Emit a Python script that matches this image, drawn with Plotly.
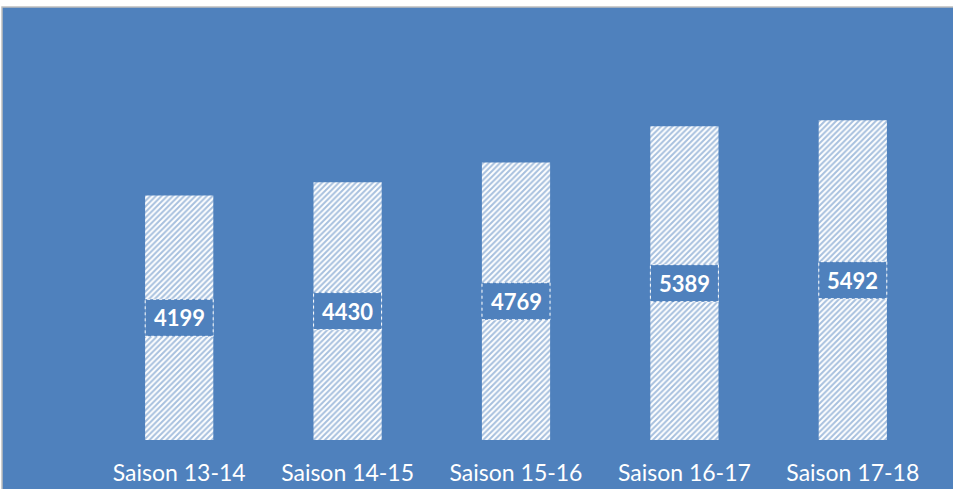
import plotly.graph_objects as go

categories = ["Saison 13-14", "Saison 14-15", "Saison 15-16", "Saison 16-17", "Saison 17-18"]
values = [4199, 4430, 4769, 5389, 5492]

BLUE = "#4F81BD"
W, H = 953, 489
ML, MR, MT, MB = 95, 16, 8, 49
pw = W - ML - MR
ph = H - MT - MB

fig = go.Figure()
fig.add_trace(go.Bar(
    x=categories, y=values,
    marker=dict(color="white", line=dict(width=0),
                pattern=dict(shape="/", fgcolor=BLUE, bgcolor="white", size=4, solidity=0.5)),
    hoverinfo="skip",
))

shapes = [dict(type="rect", xref="paper", yref="paper",
               x0=(2 - ML) / pw, x1=(W + 5 - ML) / pw,
               y0=(ph + MT - H - 5) / ph, y1=(ph + MT - 7) / ph,
               fillcolor=BLUE, line=dict(color="#BFBFBF", width=1.5), layer="below")]
annotations = []
for i, (c, v) in enumerate(zip(categories, values)):
    shapes.append(dict(type="rect", xref="x", yref="y",
                       xsizemode="pixel", ysizemode="pixel",
                       xanchor=i, yanchor=v / 2,
                       x0=-34, x1=34, y0=-18.5, y1=18.5,
                       fillcolor=BLUE, line=dict(color="white", width=1, dash="dot"),
                       layer="above"))
    annotations.append(dict(x=c, y=v / 2, xref="x", yref="y", text=f"<b>{v}</b>",
                            showarrow=False,
                            font=dict(family="Lato", size=22, color="white")))

fig.update_layout(
    width=W, height=H,
    margin=dict(l=ML, r=MR, t=MT, b=MB, autoexpand=False),
    paper_bgcolor="white", plot_bgcolor="rgba(0,0,0,0)",
    bargap=0.595,
    showlegend=False,
    shapes=shapes, annotations=annotations,
    xaxis=dict(showgrid=False, zeroline=False, showline=False, ticks="",
               automargin=False, ticklabelstandoff=17,
               tickfont=dict(family="Lato", size=23, color="white")),
    yaxis=dict(range=[0, 432 / 0.0582], showgrid=False, zeroline=False,
               automargin=False, showline=False, showticklabels=False, ticks=""),
)

fig.write_html("out.html", config={"displayModeBar": False},
               post_script="document.body.style.margin='0';document.body.style.overflow='hidden';")
